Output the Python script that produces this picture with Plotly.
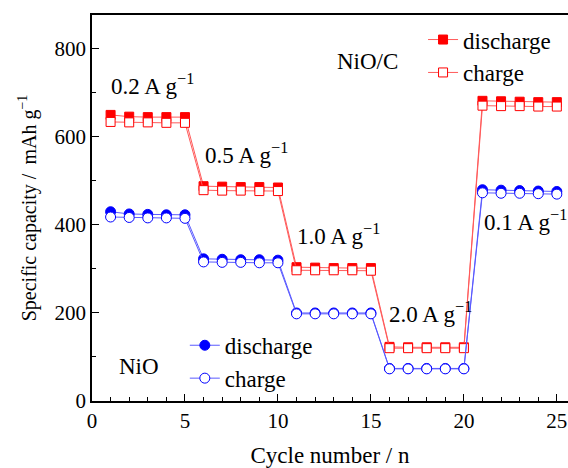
import plotly.graph_objects as go

cycles = list(range(1, 26))
nioc_discharge = [650, 646, 645, 645, 645, 488, 487, 486, 486, 485,
                  304, 303, 302, 302, 302, 123, 122, 122, 122, 122,
                  682, 681, 680, 679, 679]
nioc_charge = [634, 633, 633, 632, 632, 479, 478, 478, 477, 477,
               297, 297, 297, 297, 296, 120, 120, 120, 120, 120,
               671, 670, 670, 669, 669]
nio_discharge = [430, 425, 424, 423, 423, 323, 322, 321, 321, 320,
                 200, 200, 200, 200, 200, 74, 74, 74, 74, 74,
                 480, 479, 478, 477, 476]
nio_charge = [418, 417, 416, 416, 415, 316, 315, 315, 314, 314,
              198, 198, 198, 198, 198, 73, 73, 73, 73, 73,
              473, 472, 472, 471, 470]

rate_labels = ["0.2", "0.5", "1.0", "2.0", "0.1"]
rate_x = [0.91, 5.97, 10.91, 15.86, 20.95]
rate_y = [709, 554, 370, 192, 402]

FONT = "Liberation Serif, Times New Roman, serif"
RED = "#ff0000"
RED_L = "#ff5a5a"
BLUE = "#0000ff"
BLUE_L = "#5a5aff"

fig = go.Figure()

fig.add_trace(go.Scatter(x=cycles, y=nioc_discharge, mode="lines+markers", name="discharge",
                         legend="legend",
                         line=dict(color=RED_L, width=1),
                         marker=dict(symbol="square", size=9, color=RED, line=dict(color=RED, width=1))))
fig.add_trace(go.Scatter(x=cycles, y=nioc_charge, mode="lines+markers", name="charge",
                         legend="legend",
                         line=dict(color=RED_L, width=1),
                         marker=dict(symbol="square", size=9, color="white", line=dict(color=RED, width=1))))
fig.add_trace(go.Scatter(x=cycles, y=nio_discharge, mode="lines+markers", name="discharge",
                         legend="legend2",
                         line=dict(color=BLUE_L, width=1),
                         marker=dict(symbol="circle", size=10, color=BLUE, line=dict(color=BLUE, width=1))))
fig.add_trace(go.Scatter(x=cycles, y=nio_charge, mode="lines+markers", name="charge",
                         legend="legend2",
                         line=dict(color=BLUE_L, width=1),
                         marker=dict(symbol="circle", size=10, color="white", line=dict(color=BLUE, width=1))))

for lab, xx, yy in zip(rate_labels, rate_x, rate_y):
    fig.add_annotation(x=xx, y=yy, xref="x", yref="y",
                       text=lab + "\u2009A\u2009g<sup>\u22121</sup>",
                       showarrow=False, xanchor="left", yanchor="middle",
                       yshift=4,
                       font=dict(family=FONT, size=23, color="black"))

W, H = 568 - 92, 468 - 15 - 67
fig.add_annotation(x=(367 - 92) / W, y=(401 - 62) / H, xref="paper", yref="paper",
                   text="NiO/C", showarrow=False, xanchor="center", yanchor="middle",
                   font=dict(family=FONT, size=23, color="black"))
fig.add_annotation(x=(139 - 92) / W, y=(401 - 366) / H, xref="paper", yref="paper",
                   text="NiO", showarrow=False, xanchor="center", yanchor="middle",
                   font=dict(family=FONT, size=23, color="black"))

fig.update_layout(
    width=568, height=468,
    margin=dict(l=92, r=0, t=15, b=67),
    paper_bgcolor="white", plot_bgcolor="white",
    font=dict(family=FONT, size=21, color="black"),
    showlegend=True,
    legend=dict(x=0.6955, y=0.992, xanchor="left", yanchor="top",
                bgcolor="rgba(0,0,0,0)", font=dict(family=FONT, size=23),
                traceorder="normal"),
    legend2=dict(x=0.195, y=0.200, xanchor="left", yanchor="top",
                 bgcolor="rgba(0,0,0,0)", font=dict(family=FONT, size=23),
                 traceorder="normal"),
)

fig.update_xaxes(range=[0, 25.6], tickmode="array", tickvals=[0, 5, 10, 15, 20, 25],
                 ticks="inside", ticklen=7, tickwidth=1.2, tickcolor="black",
                 minor=dict(dtick=1, ticks="inside", ticklen=4, tickwidth=1, tickcolor="black"),
                 showline=True, linewidth=1.5, linecolor="black", mirror=True,
                 showgrid=False, zeroline=False,
                 tickfont=dict(family=FONT, size=21),
                 title=dict(text="Cycle number / n", font=dict(family=FONT, size=23), standoff=16))
fig.update_yaxes(range=[0, 877], tickmode="array", tickvals=[0, 200, 400, 600, 800],
                 ticks="inside", ticklen=7, tickwidth=1.2, tickcolor="black",
                 minor=dict(dtick=100, ticks="inside", ticklen=4, tickwidth=1, tickcolor="black"),
                 showline=True, linewidth=1.5, linecolor="black", mirror=False,
                 showgrid=False, zeroline=False,
                 tickfont=dict(family=FONT, size=21),
                 title=dict(text="Specific capacity / \u2009mAh g<sup>\u22121</sup>", font=dict(family=FONT, size=20),
                            standoff=13))

fig.write_html("out.html")
